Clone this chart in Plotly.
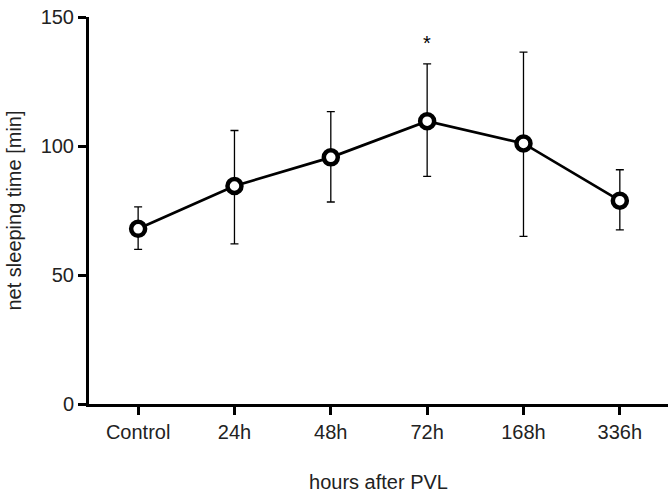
import plotly.graph_objects as go

categories = ["Control", "24h", "48h", "72h", "168h", "336h"]
means = [67.9, 84.5, 95.6, 109.6, 101.0, 78.8]
upper = [76.4, 106.0, 113.3, 131.8, 136.4, 90.8]
lower = [59.9, 62.1, 78.3, 88.2, 65.0, 67.5]
y_ticks = [0, 50, 100, 150]
sig_category = "72h"
sig_y = 140

err_plus = [u - m for u, m in zip(upper, means)]
err_minus = [m - l for m, l in zip(means, lower)]

fig = go.Figure()
fig.add_trace(go.Scatter(
    x=categories, y=means, mode="lines+markers",
    line=dict(color="black", width=2.7),
    marker=dict(symbol="circle", size=14, color="white",
                line=dict(color="black", width=4.5)),
    error_y=dict(type="data", symmetric=False, array=err_plus, arrayminus=err_minus,
                 color="black", thickness=1.3, width=4),
    showlegend=False,
))
fig.add_annotation(x=sig_category, y=sig_y, text="*", showarrow=False,
                   font=dict(size=20, color="black", family="Liberation Sans"))

font_family = "Liberation Sans, Arial, sans-serif"
fig.update_layout(
    width=670, height=493,
    margin=dict(l=89, r=2, t=17, b=87),
    paper_bgcolor="white", plot_bgcolor="white",
    font=dict(family=font_family, color="#222", size=20),
    xaxis=dict(
        type="category", range=[-0.51, 5.5],
        showline=True, linecolor="black", linewidth=3,
        ticks="outside", ticklen=8, tickwidth=3, tickcolor="black",
        showgrid=False, zeroline=False,
        tickfont=dict(size=20, color="#222"),
        title=dict(text="hours after PVL", font=dict(size=20, color="#222"), standoff=34),
    ),
    yaxis=dict(
        range=[0, 150], tickvals=y_ticks,
        showline=True, linecolor="black", linewidth=3,
        ticks="outside", ticklen=8, tickwidth=3, tickcolor="black",
        showgrid=False, zeroline=False,
        tickfont=dict(size=20, color="#222"),
        title=dict(text="net sleeping time [min]", font=dict(size=20, color="#222"), standoff=14),
    ),
)
fig.write_html("out.html")
